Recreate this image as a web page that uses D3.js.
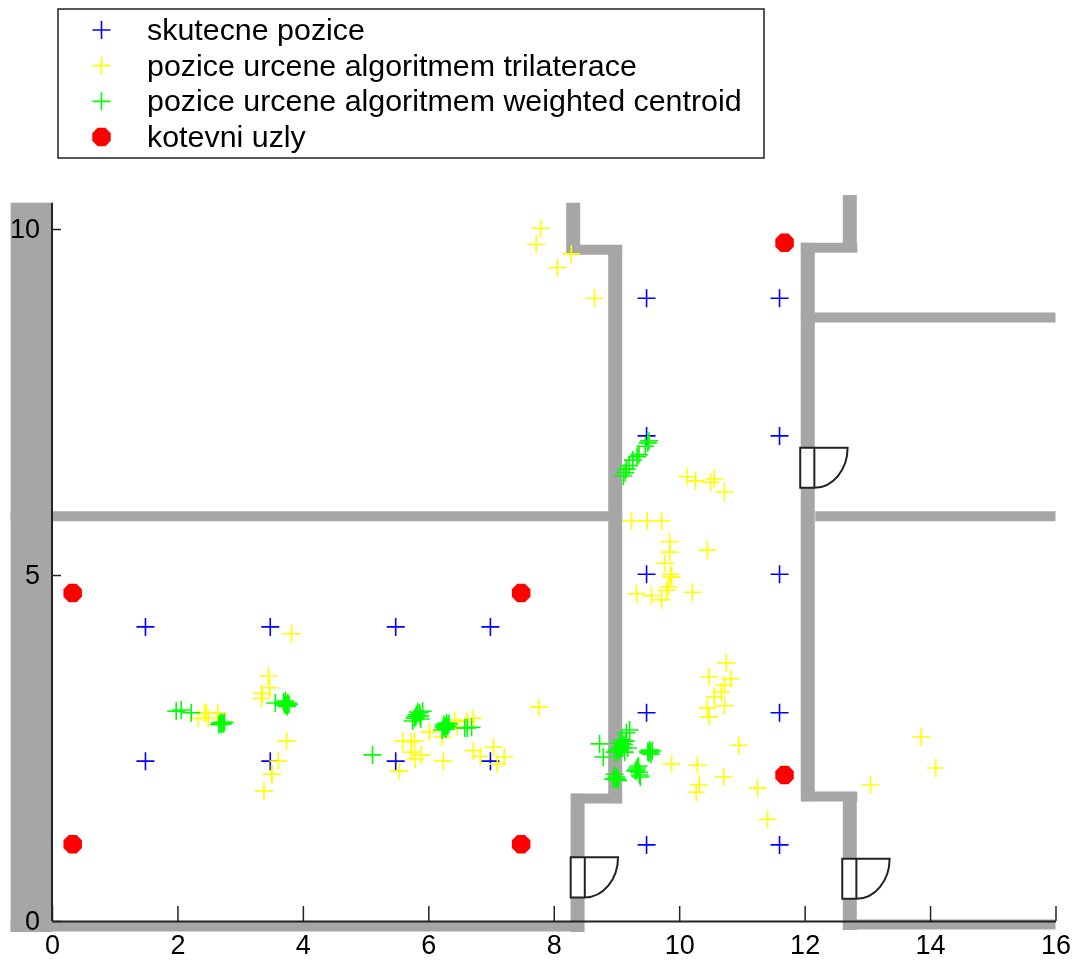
<!DOCTYPE html>
<html>
<head>
<meta charset="utf-8">
<script src="https://cdn.jsdelivr.net/npm/d3@7"></script>
<style>
body { margin: 0; background: #fff; }
text { font-family: "Liberation Sans", Arial, sans-serif; fill: #000; }
</style>
</head>
<body>
<svg id="chart"></svg>
<script>
var xTicks = [0, 2, 4, 6, 8, 10, 12, 14, 16];
var yTicks = [0, 5, 10];

var legendLabels = ["skutecne pozice", "pozice urcene algoritmem trilaterace", "pozice urcene algoritmem weighted centroid", "kotevni uzly"];

var skutecne = [[1.49,4.25],[3.48,4.25],[5.48,4.25],[6.99,4.25],[1.49,2.31],[3.48,2.31],[5.48,2.31],[6.99,2.31],
[9.48,9.0],[11.6,9.0],[9.48,7.01],[11.6,7.01],[9.48,5.01],[11.6,5.01],[9.48,3.01],[11.6,3.01],[9.48,1.10],[11.6,1.10]];

var trilaterace = [[7.79,10.01],[7.72,9.78],[8.06,9.44],[8.28,9.64],[8.65,9.0],[3.82,4.15],[3.45,3.54],[3.47,3.37],[3.34,3.22],[3.35,3.29],
[3.74,2.6],[3.61,2.31],[3.51,2.12],[3.5,2.12],[3.38,1.88],[2.33,2.93],[2.43,3.01],[2.49,2.93],[2.46,3.01],[2.64,3.01],
[7.76,3.09],[5.59,2.6],[5.73,2.59],[5.78,2.6],[6.02,2.73],[5.73,2.44],[5.89,2.4],[5.79,2.34],[6.24,2.31],[5.54,2.17],
[6.42,2.9],[6.46,2.8],[6.22,2.66],[6.62,2.88],[6.72,2.93],[6.72,2.46],[6.83,2.38],[7.04,2.51],[7.1,2.27],[7.21,2.37],
[10.75,3.73],[10.48,3.53],[10.82,3.5],[10.72,3.41],[10.67,3.31],[10.56,3.24],[10.72,3.11],[10.45,3.08],[10.48,2.95],[10.95,2.54],
[9.88,2.27],[10.29,2.25],[10.71,2.08],[10.32,1.97],[10.27,1.86],[11.25,1.92],[11.41,1.47],[13.05,1.97],[13.86,2.66],[14.09,2.21],
[10.13,6.42],[10.26,6.36],[10.5,6.34],[10.56,6.39],[10.72,6.2],[9.24,5.78],[9.49,5.78],[9.72,5.78],[9.85,5.48],[9.85,5.33],
[10.45,5.36],[9.77,5.17],[9.88,4.97],[9.83,4.83],[9.8,4.78],[9.32,4.73],[9.56,4.7],[9.72,4.64],[10.21,4.75],[9.86,5.01]];

var centroid = [[9.11,6.43],[9.14,6.48],[9.16,6.53],[9.2,6.58],[9.26,6.66],[9.33,6.71],[9.36,6.74],[9.46,6.86],[9.5,6.91],[9.52,6.94],
[1.98,3.03],[2.06,3.05],[2.22,3.01],[2.68,2.86],[2.71,2.87],[2.73,2.85],[2.66,2.84],[2.70,2.84],[2.75,2.87],
[3.56,3.15],[3.69,3.16],[3.72,3.14],[3.74,3.12],[3.76,3.15],[3.72,3.18],[3.75,3.10],[3.71,3.12],[3.78,3.13],
[5.11,2.4],[5.91,3.03],[5.81,2.98],[5.86,3.01],[5.78,2.93],[5.75,2.89],[5.8,2.95],[5.83,3.02],[5.87,2.96],[5.88,2.92],
[6.27,2.8],[6.29,2.83],[6.26,2.79],[6.29,2.86],[6.22,2.76],[6.25,2.84],[6.31,2.81],[6.28,2.77],[6.33,2.85],[6.24,2.81],
[6.58,2.79],[6.62,2.79],[6.69,2.8],[8.73,2.56],[8.79,2.37],[9.21,2.76],[9.16,2.72],[9.09,2.62],[9.05,2.57],[9.08,2.51],[9.02,2.44],
[9.13,2.44],[8.97,2.44],[9.06,2.5],[9.1,2.5],[9.12,2.55],[9.05,2.47],[9.15,2.6],[9.09,2.56],[9.0,2.47],[9.18,2.5],
[9.54,2.44],[9.51,2.43],[9.57,2.46],[9.5,2.45],[9.55,2.41],[9.53,2.47],
[9.33,2.21],[9.37,2.11],[9.32,2.18],[9.3,2.17],[9.36,2.15],[9.35,2.24],[9.38,2.08],
[8.98,2.05],[9.01,2.05],[8.97,2.12],[8.95,2.05],[9.03,2.03],[9.0,2.08]];

var kotevni = [[0.33,4.74],[7.48,4.74],[0.33,1.11],[7.48,1.11],[11.68,9.8],[11.68,2.11]];

// floor plan, in the same units as the points
var wallsV = [[8.31,10.38,9.65],[8.98,9.77,1.70],[8.38,1.84,-0.16],[12.05,9.80,1.73],[12.72,1.86,-0.13],[12.72,10.49,9.67]];
var wallsH = [[9.70,8.31,9.09],[1.77,8.28,9.09],[9.73,11.94,12.84],[1.80,11.95,12.84],[-0.08,-0.66,8.47],[-0.05,12.62,16],[8.72,11.94,16],[5.85,12.17,16],[5.85,-0.66,9.09]];
var outerWall = [-0.66, 0, 10.38, -0.16];
var doors = [[8.27,0.92],[12.60,0.90],[11.93,6.84]];

var totalW = 1076, totalH = 963;

var svg = d3.select("#chart").attr("width", totalW).attr("height", totalH).style("display", "block");

var defs = svg.append("defs");
defs.append("filter").attr("id", "soft").append("feGaussianBlur").attr("stdDeviation", 0.45);

var root = svg.append("g").attr("filter", "url(#soft)");

var xScale = d3.scaleLinear().domain([0, 16]).range([52, 1055.5]);
var yScale = d3.scaleLinear().domain([0, 10]).range([921, 229]);

// walls
var wallG = root.append("g").attr("id", "wallsG");
wallG.append("rect")
  .attr("x", xScale(outerWall[0]))
  .attr("y", yScale(outerWall[2]))
  .attr("width", xScale(outerWall[1]) - xScale(outerWall[0]))
  .attr("height", yScale(outerWall[3]) - yScale(outerWall[2]))
  .style("fill", "#a6a6a6");
wallG.selectAll("line.v").data(wallsV).enter().append("line")
  .attr("class", "v")
  .attr("x1", function(d){return xScale(d[0])})
  .attr("x2", function(d){return xScale(d[0])})
  .attr("y1", function(d){return yScale(d[1])})
  .attr("y2", function(d){return yScale(d[2])})
  .style("stroke", "#a6a6a6").style("stroke-width", 14);
wallG.selectAll("line.h").data(wallsH).enter().append("line")
  .attr("class", "h")
  .attr("x1", function(d){return xScale(d[1])})
  .attr("x2", function(d){return xScale(d[2])})
  .attr("y1", function(d){return yScale(d[0])})
  .attr("y2", function(d){return yScale(d[0])})
  .style("stroke", "#a6a6a6").style("stroke-width", 10);

// axes
var xAxis = d3.axisBottom(xScale).tickValues(xTicks).tickSize(-15).tickPadding(14).tickSizeOuter(0);
var yAxis = d3.axisLeft(yScale).tickValues(yTicks).tickSize(-9).tickPadding(12).tickSizeOuter(0);
var xG = root.append("g").attr("transform", "translate(0,921)").call(xAxis);
var yG = root.append("g").attr("transform", "translate(52,0)").call(yAxis);
yG.select(".domain").attr("d", "M0," + yScale(10.38) + "V921");
root.selectAll(".tick text").style("font-family", "'Liberation Sans', Arial, sans-serif").style("font-size", "27px").style("fill", "#000");
root.selectAll(".tick line, .domain").style("stroke", "#222").style("stroke-width", 2);
xG.selectAll(".tick line").style("stroke-width", 1.5);
yG.selectAll(".tick line").style("stroke-width", 1.5);

// doors
var doorG = root.append("g").attr("id", "doorsG").style("stroke", "#222").style("stroke-width", 2);
doorG.selectAll("path").data(doors).enter().append("path")
  .style("fill", "#fff")
  .attr("d", function(d){
    var x0 = xScale(d[0]), x1 = xScale(d[0] + 0.225), x2 = xScale(d[0] + 0.755);
    var y0 = yScale(d[1]), y1 = yScale(d[1] - 0.58);
    return "M" + x1 + "," + y0 + "H" + x0 + "V" + y1 + "H" + x1 + "Z" +
      "M" + x1 + "," + y0 + "H" + x2 + "A" + (x2 - x1) + "," + (y1 - y0) + " 0 0 1 " + x1 + "," + y1 + "Z";
  });

function plus(sel, cx, cy, color, size) {
  sel.append("path")
    .attr("d", "M" + (cx - size) + "," + cy + "H" + (cx + size) + "M" + cx + "," + (cy - size) + "V" + (cy + size))
    .style("fill", "none").style("stroke", color).style("stroke-width", 1.6);
}

function drawPluses(data, color) {
  var g = root.append("g");
  data.forEach(function(d){ plus(g, xScale(d[0]), yScale(d[1]), color, 9); });
}

drawPluses(skutecne, "#0000ff");
drawPluses(trilaterace, "#ffff00");
drawPluses(centroid, "#00ff00");

var octagon = d3.lineRadial().curve(d3.curveLinearClosed)
  .angle(function(d, i){return (i + 0.5) * Math.PI / 4})
  .radius(10);
var octaPts = [0, 1, 2, 3, 4, 5, 6, 7];

root.append("g").selectAll("path").data(kotevni).enter().append("path")
  .attr("d", octagon(octaPts))
  .attr("transform", function(d){return "translate(" + xScale(d[0]) + "," + yScale(d[1]) + ")"})
  .style("fill", "#ff0000");

// legend
var legend = root.append("g").attr("id", "legendG");
legend.append("rect").attr("x", 58).attr("y", 9).attr("width", 706).attr("height", 149)
  .style("fill", "#fff").style("stroke", "#222").style("stroke-width", 1.5);
var legendY = d3.scalePoint().domain(d3.range(legendLabels.length)).range([30, 137]);
var legendColors = ["#0000ff", "#ffff00", "#00ff00"];
legendLabels.forEach(function(label, i){
  var y = legendY(i);
  if (i < 3) {
    plus(legend, 101.5, y, legendColors[i], 9);
  } else {
    legend.append("path").attr("d", octagon(octaPts)).attr("transform", "translate(101.5," + y + ")").style("fill", "#ff0000");
  }
  legend.append("text").attr("x", 147).attr("y", y + 10).style("font-size", "30.4px").text(label);
});
</script>
</body>
</html>
